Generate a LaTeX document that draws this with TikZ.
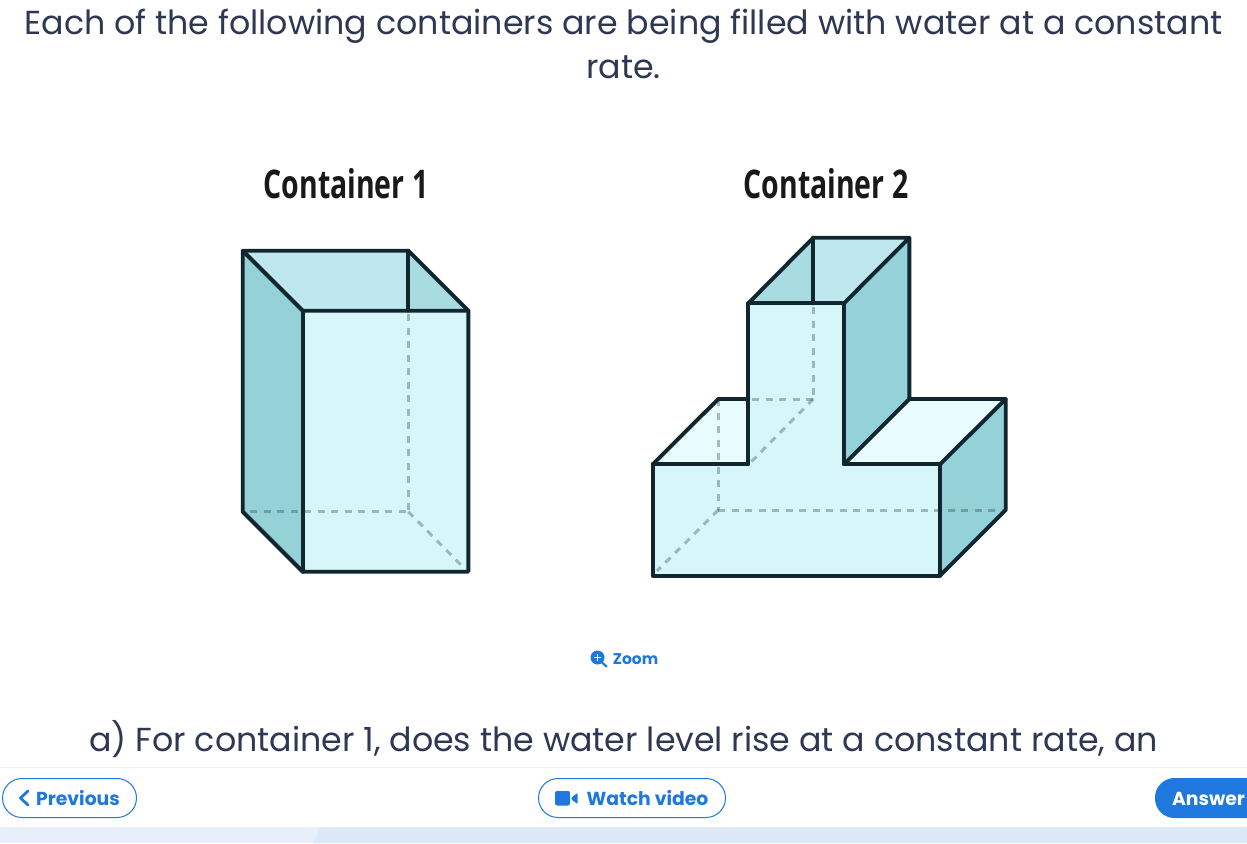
\documentclass[tikz,border=0pt]{standalone}
\usepackage{fontspec}
\setmainfont{Poppins}
\newfontfamily\headfont[FakeStretch=0.72]{Open Sans Bold}
\usetikzlibrary{calc}
\definecolor{inkc}{HTML}{11262F}
\definecolor{txtc}{HTML}{2F3853}
\definecolor{bluec}{HTML}{1F78DE}
\definecolor{frontc}{HTML}{D6F6F9}
\definecolor{sidec}{HTML}{94D2D8}
\definecolor{backc}{HTML}{BEE8ED}
\definecolor{innerc}{HTML}{A9DCE0}
\definecolor{ledgec}{HTML}{E8FCFE}
\definecolor{bandc}{HTML}{E8EEFA}
\definecolor{band2c}{HTML}{DDE8F7}
\definecolor{rulec}{HTML}{F1F3F9}
\tikzset{
  edge/.style={draw=inkc,line width=3.9pt,line join=round,line cap=round},
  hidden/.style={draw=inkc,draw opacity=.3,line width=3pt,dash pattern=on 7pt off 6.5pt},
  body/.style={font=\fontsize{33.25}{40}\selectfont,text=txtc,anchor=base,inner sep=0pt},
  head/.style={font=\headfont\fontsize{39.5}{46}\selectfont,text=black!90,anchor=base,inner sep=0pt},
  btn/.style={draw=bluec,line width=1pt,fill=white,rounded corners=19.5pt},
  btntxt/.style={font=\fontsize{18.8}{24}\selectfont\bfseries,text=bluec,anchor=base,inner sep=0pt},
}
\begin{document}
\begin{tikzpicture}[x=1pt,y=-1pt]
\useasboundingbox (0,0) rectangle (1247,843);
\clip (0,0) rectangle (1247,843);
\fill[white] (0,0) rectangle (1247,843);

% texts
\node[body] (l1) at (623.5,35) {Each of the following containers are being filled with water at a constant};
\node[body] (l2) at (623.5,78) {rate.};
\node[head] (c1) at (346,198.5) {Container 1};
\node[head] (c2) at (826,198.5) {Container 2};
\node[body] (q) at (623.5,751) {a) For container 1, does the water level rise at a constant rate, an};

% container 1
\coordinate (a) at (242.7,250.7);
\coordinate (b) at (408.3,250.7);
\coordinate (c) at (302.7,310.7);
\coordinate (d) at (468.3,310.7);
\coordinate (e) at (302.7,571.7);
\coordinate (f) at (468.3,571.7);
\coordinate (g) at (242.7,511.7);
\coordinate (h) at (408.3,511.7);
\fill[backc] (a)--(b)--(408.3,310.7)--(c)--cycle;
\fill[innerc] (b)--(d)--(408.3,310.7)--cycle;
\fill[frontc] (c)--(d)--(f)--(e)--cycle;
\fill[sidec] (a)--(c)--(e)--(g)--cycle;
\draw[hidden] (408.3,314)--(h);
\draw[hidden] (250,511.7)--(h);
\draw[hidden] (h)--(464,568);
\draw[edge] (a)--(b)--(d)--(f)--(e)--(g)--cycle;
\draw[edge] (a)--(c)--(d);
\draw[edge] (c)--(e);
\draw[edge] (b)--(408.3,310.7);

% container 2
\coordinate (p1) at (652.7,575.7);
\coordinate (p2) at (940,575.7);
\coordinate (p3) at (940,464.3);
\coordinate (p4) at (844,464.3);
\coordinate (p5) at (844,303.3);
\coordinate (p6) at (748.3,303.3);
\coordinate (p7) at (748.3,464.3);
\coordinate (p8) at (652.7,464.3);
\coordinate (q1) at (813.3,237.7);
\coordinate (q2) at (909.3,237.7);
\coordinate (q3) at (909.3,399);
\coordinate (q4) at (1005.7,399);
\coordinate (q5) at (1005.7,510);
\coordinate (q6) at (718.3,510);
\coordinate (q7) at (718.3,399);
\coordinate (q8) at (813.3,399);
\fill[backc] (q1)--(q2)--(p5)--(813.3,303.3)--cycle;
\fill[innerc] (q1)--(813.3,303.3)--(p6)--cycle;
\fill[ledgec] (p8)--(q7)--(748.3,399)--(p7)--cycle;
\fill[ledgec] (p4)--(q3)--(q4)--(p3)--cycle;
\fill[frontc] (p1)--(p2)--(p3)--(p4)--(p5)--(p6)--(p7)--(p8)--cycle;
\fill[sidec] (p5)--(q2)--(q3)--(p4)--cycle;
\fill[sidec] (p3)--(q4)--(q5)--(p2)--cycle;
\draw[hidden] (813.3,307)--(q8);
\draw[hidden] (752,399)--(q8);
\draw[hidden] (q8)--(750,463);
\draw[hidden] (q7)--(q6);
\draw[hidden] (q6)--(q5);
\draw[hidden] (q6)--(657,571);
\draw[edge] (p1)--(p2)--(p3)--(p4)--(p5)--(p6)--(p7)--(p8)--cycle;
\draw[edge] (p6)--(q1)--(q2)--(p5);
\draw[edge] (q1)--(813.3,303.3);
\draw[edge] (q2)--(q3)--(p4);
\draw[edge] (q3)--(q4)--(p3);
\draw[edge] (q4)--(q5)--(p2);
\draw[edge] (p8)--(q7)--(748.3,399);

% zoom link
\fill[bluec] (597.5,657.5) circle (7pt);
\draw[bluec,line width=2.2pt,line cap=round] (602,662.5)--(606.5,666.5);
\draw[white,line width=1.6pt] (593.8,657.5)--(601.2,657.5) (597.5,653.8)--(597.5,661.2);
\node[btntxt,font=\fontsize{15.5}{20}\selectfont\bfseries] (zl) at (635.5,664) {Zoom};

% bottom bar
\fill[bandc] (0,827) rectangle (1247,843);
\fill[band2c] (321,827)--(1247,827)--(1247,843)--(313,843)--cycle;
\fill[white,rounded corners=5pt] (0,760)--(1247,760)--(1247,827)--(0,827)--cycle;
\fill[white] (0,760) rectangle (1247,815);
\draw[rulec,line width=1pt] (0,767.5)--(1247,767.5);

\path[btn] (2.5,778.5) rectangle (136.5,817.5);
\draw[bluec,line width=2.8pt,line join=round,line cap=round] (28,791)--(20.5,798)--(28,805);
\node[btntxt] (prev) at (78,805) {Previous};

\path[btn] (538.5,778.5) rectangle (725.5,817.5);
\fill[bluec,rounded corners=2pt] (555,791) rectangle (570,805.5);
\fill[bluec,rounded corners=.8pt] (571.5,797.5)--(577.5,793)--(577.5,804)--(571.5,799.5)--cycle;
\node[btntxt] (watch) at (647.5,805) {Watch video};

\fill[bluec,rounded corners=19.5pt] (1155,778) rectangle (1300,818);
\node[btntxt,text=white] (ans) at (1208.5,805) {Answer};
\end{tikzpicture}
\end{document}
